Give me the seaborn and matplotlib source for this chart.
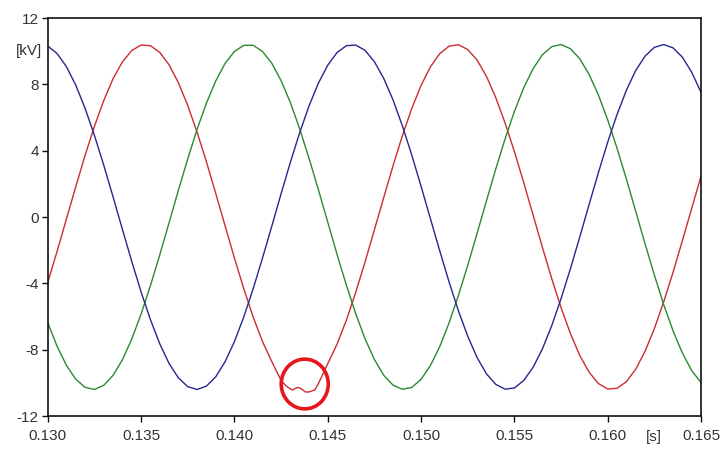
import numpy as np
import pandas as pd
import matplotlib
matplotlib.use("Agg")
import matplotlib.pyplot as plt
from matplotlib.patches import Ellipse
import seaborn as sns

# Sample times [s], 0.5 ms apart
t_start, t_step, n_samples = 0.130, 0.0005, 71

# Phase voltages [kV] at each sample time
phase_a = [-3.95, -2.08, -0.13, 1.82, 3.71, 5.46, 7.02, 8.34, 9.35, 10.04,
           10.37, 10.33, 9.93, 9.18, 8.10, 6.73, 5.12, 3.34, 1.43, -0.52,
           -2.46, -4.31, -6.01, -7.49, -8.71, -9.62, -10.19, -10.40, -10.24, -9.72,
           -8.85, -7.67, -6.22, -4.55, -2.71, -0.78, 1.17, 3.09, 4.90, 6.53,
           7.93, 9.05, 9.85, 10.30, 10.39, 10.10, 9.47, 8.49, 7.21, 5.68,
           3.95, 2.08, 0.13, -1.82, -3.71, -5.46, -7.02, -8.34, -9.35, -10.04,
           -10.37, -10.33, -9.93, -9.18, -8.10, -6.73, -5.12, -3.34, -1.43, 0.52,
           2.46]
phase_b = [-6.36, -7.79, -8.94, -9.78, -10.27, -10.40, -10.15, -9.55, -8.61, -7.37,
           -5.86, -4.15, -2.29, -0.35, 1.61, 3.50, 5.28, 6.86, 8.20, 9.26,
           9.98, 10.35, 10.36, 9.99, 9.28, 8.23, 6.90, 5.31, 3.54, 1.65,
           -0.30, -2.25, -4.11, -5.83, -7.34, -8.59, -9.54, -10.14, -10.39, -10.28,
           -9.79, -8.96, -7.82, -6.39, -4.74, -2.92, -1.00, 0.96, 2.88, 4.70,
           6.36, 7.79, 8.94, 9.78, 10.27, 10.40, 10.15, 9.55, 8.61, 7.37,
           5.86, 4.15, 2.29, 0.35, -1.61, -3.50, -5.28, -6.86, -8.20, -9.26,
           -9.98]
phase_c = [10.31, 9.86, 9.07, 7.96, 6.56, 4.93, 3.13, 1.22, -0.74, -2.67,
           -4.51, -6.18, -7.64, -8.83, -9.70, -10.23, -10.40, -10.20, -9.64, -8.73,
           -7.52, -6.04, -4.35, -2.50, -0.57, 1.39, 3.30, 5.09, 6.70, 8.07,
           9.15, 9.92, 10.33, 10.37, 10.05, 9.37, 8.36, 7.06, 5.50, 3.75,
           1.86, -0.09, -2.03, -3.91, -5.65, -7.18, -8.47, -9.45, -10.09, -10.38,
           -10.31, -9.86, -9.07, -7.96, -6.56, -4.93, -3.13, -1.22, 0.74, 2.67,
           4.51, 6.18, 7.64, 8.83, 9.70, 10.23, 10.40, 10.20, 9.64, 8.73,
           7.52]

# Distorted trough of phase A (finer sampling)
dip_t = [0.1425, 0.1428, 0.1431, 0.1434, 0.1436, 0.1438, 0.1440, 0.1443, 0.1445]
dip_kv = [-9.85, -10.22, -10.43, -10.27, -10.37, -10.55, -10.55, -10.43, -10.05]

x_ticks = [0.130, 0.135, 0.140, 0.145, 0.150, 0.155, 0.160, 0.165]
x_tick_labels = ["0.130", "0.135", "0.140", "0.145", "0.150", "0.155", "0.160", "0.165"]
y_ticks = [-12, -8, -4, 0, 4, 8, 12]
y_tick_labels = ["-12", "-8", "-4", "0", "4", "8", "12"]

colors = {"A": "#cc2b30", "B": "#2b8a2b", "C": "#26268f"}

# Build a long-form table
t = np.round(t_start + t_step * np.arange(n_samples), 6)
frames = []
keep = (t < dip_t[0] - 1e-9) | (t > dip_t[-1] + 1e-9)
a_t = np.concatenate([t[keep], dip_t])
a_v = np.concatenate([np.asarray(phase_a)[keep], dip_kv])
order = np.argsort(a_t)
frames.append(pd.DataFrame({"t": a_t[order], "kv": a_v[order], "phase": "A"}))
frames.append(pd.DataFrame({"t": t, "kv": phase_b, "phase": "B"}))
frames.append(pd.DataFrame({"t": t, "kv": phase_c, "phase": "C"}))
df = pd.concat(frames, ignore_index=True)

sns.set_style("ticks")
plt.rcParams["font.family"] = ["Liberation Sans", "DejaVu Sans"]
plt.rcParams["axes.unicode_minus"] = False

fig = plt.figure(figsize=(7.23, 4.63), dpi=100)
ax = fig.add_axes([0.066, 0.1015, 0.9036, 0.8596])

sns.lineplot(data=df, x="t", y="kv", hue="phase", palette=colors,
             linewidth=1.0, legend=False, sort=False, estimator=None, ax=ax)

ax.set_xlim(0.130, 0.165)
ax.set_ylim(-12, 12)
ax.set_xticks(x_ticks)
ax.set_xticklabels(x_tick_labels)
ax.set_yticks(y_ticks)
ax.set_yticklabels(y_tick_labels)
ax.set_xlabel("")
ax.set_ylabel("")

ax.tick_params(axis="both", direction="out", length=4.5, width=1.0,
               labelsize=11, colors="#111111", labelcolor="#333333")
ax.tick_params(axis="x", pad=5)
ax.tick_params(axis="y", pad=2)
for s in ax.spines.values():
    s.set_visible(True)
    s.set_linewidth(1.2)
    s.set_color("#111111")

# Unit labels
ax.text(-0.008, 10.0, "[kV]", transform=ax.get_yaxis_transform(),
        ha="right", va="center", fontsize=11, color="#333333")
ax.text(0.1625, -0.035, "[s]", transform=ax.get_xaxis_transform(),
        ha="center", va="top", fontsize=11, color="#333333")

# Highlight the distorted trough
ax.add_patch(Ellipse((0.14377, -10.07), width=0.00252, height=3.0,
                     fill=False, edgecolor="#e8161c", linewidth=2.6, zorder=5))

fig.savefig("out.png", dpi=100, facecolor="white")
